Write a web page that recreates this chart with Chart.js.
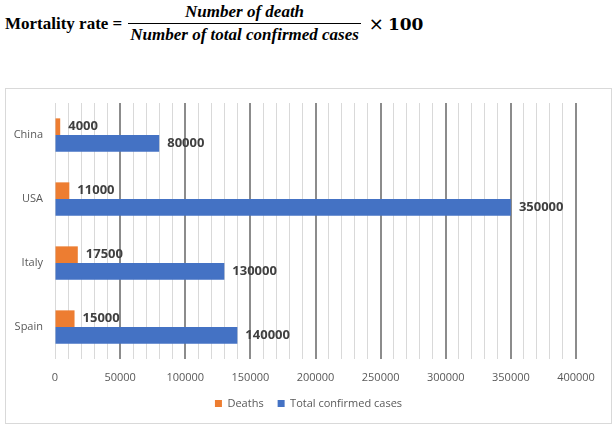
<!DOCTYPE html>
<html>
<head>
<meta charset="utf-8">
<script src="https://cdn.jsdelivr.net/npm/chart.js@4"></script>
<style>
  body { margin: 0; background: #fff; width: 616px; height: 430px; position: relative; overflow: hidden; }
  #formula { position: absolute; left: 5px; top: 2px; display: flex; align-items: center; font-family: "Liberation Serif", serif; color: #000; }
  #formula .lhs { font-weight: bold; font-size: 17px; margin-right: 6px; }
  #formula .frac { display: inline-flex; flex-direction: column; align-items: center; font-weight: bold; font-style: italic; font-size: 17px; }
  #formula .num { padding: 0 2px 1px; line-height: 20px; }
  #formula .den { border-top: 1px solid #000; padding: 1px 2px 0; line-height: 20px; }
  #formula .times { font-size: 18px; margin-left: 8px; font-family: "DejaVu Sans", sans-serif; }
  #formula .hund { font-weight: bold; font-size: 17px; margin-left: 4px; font-family: "DejaVu Serif", serif; }
  #box { position: absolute; left: 5px; top: 88px; width: 605px; height: 334px; border: 1px solid #d9d9d9; }
</style>
</head>
<body>
<div id="formula">
  <span class="lhs">Mortality rate =</span>
  <span class="frac"><span class="num">Number of death</span><span class="den">Number of total confirmed cases</span></span>
  <span class="times">×</span><span class="hund">100</span>
</div>
<div id="box"><canvas id="chart" width="605" height="334"></canvas></div>
<script>
// Chart data
const countries = ["China", "USA", "Italy", "Spain"];
const deaths = [4000, 11000, 17500, 15000];
const totalCases = [80000, 350000, 130000, 140000];

// Draw the value next to the end of each bar
const barLabels = {
    id: "barLabels",
    afterDatasetsDraw(chart) {
        const ctx = chart.ctx;
        ctx.save();
        ctx.font = "bold 13px 'Open Sans'";
        ctx.fillStyle = "#404040";
        ctx.textAlign = "left";
        ctx.textBaseline = "middle";
        chart.data.datasets.forEach((ds, i) => {
            chart.getDatasetMeta(i).data.forEach((bar, j) => {
                ctx.fillText(String(ds.data[j]), bar.x + 8, bar.y);
            });
        });
        ctx.restore();
    }
};

const chartCtx = document.getElementById("chart").getContext("2d");
new Chart(chartCtx, {
    type: "bar",
    data: {
        labels: countries,
        datasets: [
            { label: "Deaths", data: deaths, backgroundColor: "#ED7D31" },
            { label: "Total confirmed cases", data: totalCases, backgroundColor: "#4472C4" }
        ]
    },
    options: {
        indexAxis: "y",
        responsive: false,
        animation: false,
        datasets: { bar: { categoryPercentage: 0.52, barPercentage: 1 } },
        layout: { padding: { left: 0, right: 0, top: 14, bottom: 4 } },
        scales: {
            x: {
                min: 0,
                max: 400000,
                border: { display: false },
                grid: {
                    drawTicks: false,
                    color: c => (c.tick && c.tick.value % 50000 === 0 && c.tick.value !== 0) ? "#8c8c8c" : "#d9d9d9",
                    lineWidth: c => (c.tick && c.tick.value % 50000 === 0 && c.tick.value !== 0) ? 2 : 1
                },
                ticks: {
                    stepSize: 10000,
                    autoSkip: false,
                    maxRotation: 0,
                    padding: 12,
                    color: "#595959",
                    font: { family: "Open Sans", size: 11 },
                    callback: v => v % 50000 === 0 ? String(v) : ""
                },
                afterFit: s => { s.height = 25; s.paddingRight = 35; }
            },
            y: {
                border: { display: false },
                grid: { display: false, drawTicks: false },
                ticks: {
                    padding: 12,
                    color: "#595959",
                    font: { family: "Open Sans", size: 11 }
                },
                afterFit: s => { s.width = 49; s.paddingTop = 0; s.paddingBottom = 0; }
            }
        },
        plugins: {
            legend: {
                position: "bottom",
                labels: {
                    boxWidth: 7,
                    boxHeight: 7,
                    padding: 14,
                    color: "#595959",
                    font: { family: "Open Sans", size: 11 }
                }
            },
            tooltip: { enabled: false }
        }
    },
    plugins: [barLabels]
});
</script>
</body>
</html>
